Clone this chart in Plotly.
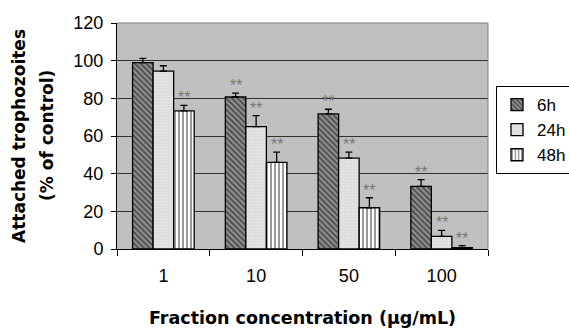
import plotly.graph_objects as go

categories = ["1", "10", "50", "100"]
series_names = ["6h", "24h", "48h"]
values_6h = [99, 80.7, 71.7, 33.3]
values_24h = [94.5, 65, 48.3, 6.7]
values_48h = [73.3, 46, 21.9, 0.7]
err_6h = [2.2, 2.1, 2.5, 3.5]
err_24h = [2.8, 5.8, 3.1, 3.2]
err_48h = [3.0, 5.4, 5.3, 1.1]
sig_6h = ["", "**", "**", "**"]
sig_24h = ["", "**", "**", "**"]
sig_48h = ["**", "**", "**", "**"]
x_title = "Fraction concentration (µg/mL)"
y_title_1 = "Attached trophozoites"
y_title_2 = "(% of control)"

values = [values_6h, values_24h, values_48h]
errors = [err_6h, err_24h, err_48h]
sigs = [sig_6h, sig_24h, sig_48h]
patterns = [
    dict(shape="\\", bgcolor="#909090", fgcolor="#000000", size=4, solidity=0.45),
    dict(shape=".", bgcolor="#d8d8d8", fgcolor="#f4f4f4", size=3, solidity=0.5),
    dict(shape="|", bgcolor="#ffffff", fgcolor="#383838", size=4, solidity=0.5),
]

FONT = "Liberation Sans, Arial, sans-serif"
BFONT = "DejaVu Sans, sans-serif"
W, H = 569, 330
ml, mr, mt, mb = 117, 81, 23, 81
bargap = 0.336
plot_w = W - ml - mr
plot_h = H - mt - mb

fig = go.Figure()
for name, v, e, p in zip(series_names, values, errors, patterns):
    fig.add_trace(go.Bar(
        name=name, x=categories, y=v,
        marker=dict(pattern=p, color=p["bgcolor"], line=dict(color="black", width=1.3)),
        error_y=dict(type="data", array=e, arrayminus=[0] * len(e), symmetric=False,
                     color="black", thickness=1.3, width=3.5),
    ))

bar_px = plot_w / len(categories) * (1 - bargap) / len(series_names)
for i, (v, e, s) in enumerate(zip(values, errors, sigs)):
    for ci, (vv, ee, ss) in enumerate(zip(v, e, s)):
        if ss:
            fig.add_annotation(x=ci, y=vv + ee, text=ss, showarrow=False,
                               xshift=(i - 1) * bar_px, yanchor="bottom", yshift=-3,
                               font=dict(family=FONT, size=16, color="#787878"))

# axis titles
fig.add_annotation(xref="paper", yref="paper", x=0.5, y=(249 - 318) / plot_h,
                   text="<b>" + x_title + "</b>", showarrow=False,
                   xanchor="center", yanchor="middle",
                   font=dict(family=BFONT, size=17.5, color="black"))
fig.add_annotation(xref="paper", yref="paper", x=(19 - ml) / plot_w, y=0.5,
                   text="<b>" + y_title_1 + "</b>", showarrow=False, textangle=-90,
                   xanchor="center", yanchor="middle",
                   font=dict(family=BFONT, size=17, color="black"))
fig.add_annotation(xref="paper", yref="paper", x=(47 - ml) / plot_w, y=0.5,
                   text="<b>" + y_title_2 + "</b>", showarrow=False, textangle=-90,
                   xanchor="center", yanchor="middle",
                   font=dict(family=BFONT, size=17, color="black"))

# grey plot-area border on top and right
fig.add_shape(type="line", xref="paper", yref="paper", x0=0, x1=1, y0=1, y1=1,
              line=dict(color="#808080", width=1), layer="above")
fig.add_shape(type="line", xref="paper", yref="paper", x0=1, x1=1, y0=0, y1=1,
              line=dict(color="#808080", width=1), layer="above")

fig.update_layout(
    width=W, height=H,
    margin=dict(l=ml, r=mr, t=mt, b=mb, autoexpand=False),
    barmode="group", bargap=bargap, bargroupgap=0,
    paper_bgcolor="white", plot_bgcolor="#c0c0c0",
    font=dict(family=FONT, size=18, color="black"),
    showlegend=True,
    legend=dict(x=(496 - ml) / plot_w, y=(249 - 86) / plot_h, xanchor="left", yanchor="top",
                bordercolor="black", borderwidth=1, bgcolor="white",
                font=dict(family=FONT, size=17)),
    xaxis=dict(
        type="category", range=[-0.5, len(categories) - 0.5], automargin=False,
        tickson="boundaries", ticks="outside", ticklen=6, ticklabelstandoff=10,
        tickcolor="black", showline=True, linecolor="black", linewidth=1,
        showgrid=False, tickfont=dict(family=FONT, size=18),
    ),
    yaxis=dict(
        range=[0, 120], dtick=20, ticks="outside", ticklen=5, tickcolor="black",
        automargin=False, ticklabelstandoff=4,
        showline=True, linecolor="black", linewidth=1,
        showgrid=True, gridcolor="#303030", gridwidth=1,
        zeroline=False, tickfont=dict(family=FONT, size=18),
    ),
)

fig.write_html("out.html", config={"displayModeBar": False},
               post_script="document.body.style.margin='0';")
